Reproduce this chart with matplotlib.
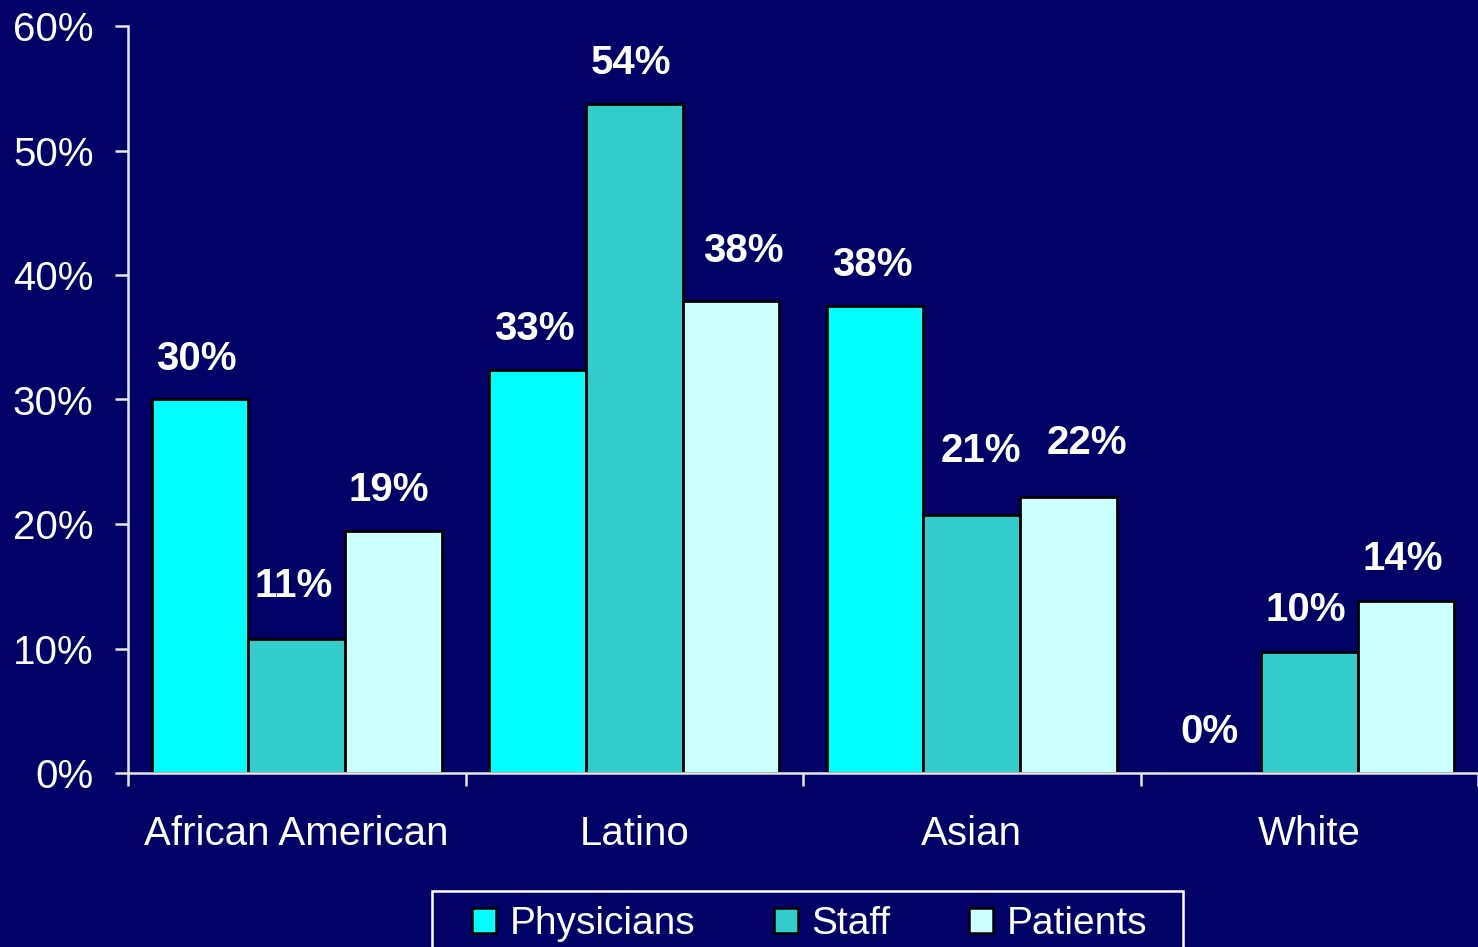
"""grouped bar chart: race/ethnicity of physicians, staff and patients"""

import matplotlib
matplotlib.use("Agg")
import matplotlib.pyplot as plt
import numpy as np
from matplotlib.patches import Patch, Rectangle

categories = ["African American", "Latino", "Asian", "White"]
series = ["Physicians", "Staff", "Patients"]
physicians = [30.0, 32.4, 37.5, 0.0]
staff = [10.8, 53.7, 20.7, 9.7]
patients = [19.4, 37.9, 22.2, 13.8]
physicians_labels = ["30%", "33%", "38%", "0%"]
staff_labels = ["11%", "54%", "21%", "10%"]
patients_labels = ["19%", "38%", "22%", "14%"]
yticks = [0, 10, 20, 30, 40, 50, 60]

# hand-placed label nudges (pixels) as in the original slide
nudge_x = [[-4, -3, -3, -3], [-3, -3, 9, -3], [-4, 13, 19, -3]]
nudge_y = [[0, 0, 0, 0], [12, 0, 23, 1], [0, 9, 13, 1]]

BG = "#000066"
colors = ["#00FFFF", "#33CCCC", "#CCFFFF"]
FONT = "Liberation Sans"
plt.rcParams["font.family"] = [FONT, "DejaVu Sans"]

W, H = 1478, 947
fig = plt.figure(figsize=(W / 100, H / 100), dpi=100)
fig.patch.set_facecolor(BG)
ax = fig.add_axes([128 / W, 1 - 773 / H, 1 - 128 / W, (773 - 26) / H])
ax.set_facecolor(BG)

x = np.arange(len(categories))
width = 0.286
values = [physicians, staff, patients]
labels = [physicians_labels, staff_labels, patients_labels]
for i, (vals, labs) in enumerate(zip(values, labels)):
    pos = x + (i - 1) * width
    ax.bar(pos, vals, width, color=colors[i], edgecolor="black",
           linewidth=2, label=series[i], zorder=2)
    for j, (px, v, lab) in enumerate(zip(pos, vals, labs)):
        ax.annotate(lab, xy=(px, v),
                    xytext=(nudge_x[i][j], 30 + nudge_y[i][j]),
                    textcoords="offset pixels", ha="center", va="baseline",
                    color="white", fontsize=29, fontweight="bold")

ax.set_xlim(-0.5, len(categories) - 0.5)
ax.set_ylim(0, 60)
ax.set_yticks(yticks)
ax.set_yticklabels([f"{t}%" for t in yticks])
ax.set_xticks(np.arange(len(categories) + 1) - 0.5)
ax.set_xticklabels([])
ax.set_xticks(x, minor=True)
ax.set_xticklabels(categories, minor=True)

spine_col = "#E6E6E6"
for s in ["top", "right"]:
    ax.spines[s].set_visible(False)
for s in ["left", "bottom"]:
    ax.spines[s].set_color(spine_col)
    ax.spines[s].set_linewidth(1.8)
    ax.spines[s].set_zorder(3)
ax.tick_params(axis="y", direction="out", length=9.4, width=1.8,
               color=spine_col, labelcolor="white", labelsize=29, pad=15.5)
ax.tick_params(axis="x", which="major", direction="out", length=9.4,
               width=1.8, color=spine_col)
ax.tick_params(axis="x", which="minor", length=0, labelcolor="white",
               labelsize=29, pad=30)

leg = fig.legend(
    handles=[Patch(facecolor=c, edgecolor="black", linewidth=1.8) for c in colors],
    labels=series, loc="center left", bbox_to_anchor=(472 / W, 1 - 924 / H),
    ncol=3, frameon=False, fontsize=28, borderpad=0, borderaxespad=0,
    handlelength=0.62, handleheight=0.62, handletextpad=0.36,
    columnspacing=2.0)
for t in leg.get_texts():
    t.set_color("white")

fig.patches.append(Rectangle((432 / W, -0.05), (1183 - 432) / W,
                             0.05 + 1 - 891 / H, transform=fig.transFigure,
                             fill=False, edgecolor="white", linewidth=1.8))

fig.savefig("out.png", dpi=100, facecolor=BG)
